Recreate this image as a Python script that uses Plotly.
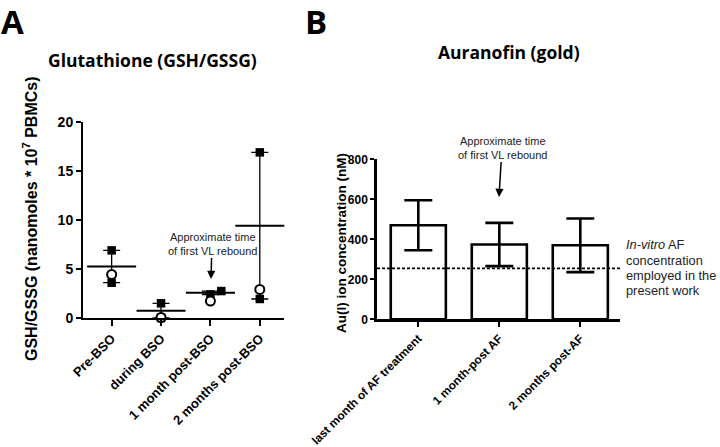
import numpy as np
import plotly.graph_objects as go

# ---------------- data ----------------
gsh_categories = ["Pre-BSO", "during BSO", "1 month post-BSO", "2 months post-BSO"]
gsh_squares = [[6.9, 3.6], [1.5, 0.0], [2.75, 2.4], [16.9, 1.94]]
gsh_circles = [4.45, 0.05, 1.73, 2.92]

af_categories = ["last month of AF treatment", "1 month-post AF", "2 months post-AF"]
af_means = [470, 374, 370]
af_err = [125, 108, 134]
invitro_af = 255

A_yticks = [0, 5, 10, 15, 20]
B_yticks = [0, 200, 400, 600, 800]

invitro_lines = ["<i>In-vitro</i> AF", "concentration", "employed in the", "present work"]

# ---------------- layout helpers ----------------
W, H = 720, 447
def px(x):
    return x / W
def py(y):
    return 1 - y / H

sq_offsets = [[0, 0], [0, 0], [0.22, 0], [0, 0]]  # visual jitter only

fig = go.Figure()

# mean + range error bars (panel A)
sq = np.array(gsh_squares)
means = sq.mean(axis=1)
err_plus = sq.max(axis=1) - means
err_minus = means - sq.min(axis=1)
xA = np.arange(len(gsh_categories))

fig.add_trace(go.Scatter(
    x=xA, y=means, mode="markers", xaxis="x", yaxis="y",
    marker=dict(symbol="line-ew", size=35, line=dict(width=2, color="black"), color="black"),
    error_y=dict(type="data", symmetric=False, array=err_plus, arrayminus=err_minus,
                 thickness=1.3, width=8.5, color="black"),
    cliponaxis=False, showlegend=False, hoverinfo="skip"))

# squares
sx, sy = [], []
for i, vals in enumerate(gsh_squares):
    for j, v in enumerate(vals):
        sx.append(i + sq_offsets[i][j])
        sy.append(v)
fig.add_trace(go.Scatter(
    x=sx, y=sy, mode="markers", xaxis="x", yaxis="y",
    marker=dict(symbol="square", size=8.5, color="black", line=dict(width=0)),
    cliponaxis=False, showlegend=False))

# circles
fig.add_trace(go.Scatter(
    x=xA, y=gsh_circles, mode="markers", xaxis="x", yaxis="y",
    marker=dict(symbol="circle", size=9, color="white", line=dict(width=2, color="black")),
    cliponaxis=False, showlegend=False))

# panel B bars
xB = np.arange(len(af_categories))
fig.add_trace(go.Bar(
    x=xB, y=af_means, xaxis="x2", yaxis="y2", width=0.68,
    marker=dict(color="white", line=dict(color="black", width=2.6)),
    error_y=dict(type="data", array=af_err, thickness=2.6, width=14, color="black"),
    showlegend=False))

font_bold = "Liberation Sans, Arial, sans-serif"

fig.update_layout(
    width=W, height=H,
    margin=dict(l=0, r=0, t=0, b=0, autoexpand=False),
    paper_bgcolor="white", plot_bgcolor="white",
    font=dict(family=font_bold, color="black"),
    xaxis=dict(domain=[px(83), px(284)], range=[-0.58, 3.49],
               tickvals=list(xA), ticktext=["<b>%s</b>" % c for c in gsh_categories],
               tickangle=-45, tickfont=dict(size=13, family=font_bold),
               showline=True, linecolor="black", linewidth=2,
               ticks="outside", ticklen=6, tickwidth=2, tickcolor="black",
               showgrid=False, zeroline=False, anchor="y", automargin=False),
    yaxis=dict(domain=[py(318), py(122)], range=[0, 20],
               tickvals=A_yticks, ticktext=["<b>%d</b>" % v for v in A_yticks],
               tickfont=dict(size=14, family=font_bold),
               showline=True, linecolor="black", linewidth=2,
               ticks="outside", ticklen=5, tickwidth=2, tickcolor="black",
               showgrid=False, zeroline=False, anchor="x", automargin=False),
    xaxis2=dict(domain=[px(377), px(620)], range=[-0.51, 2.49],
                tickvals=list(xB), ticktext=["<b>%s</b>" % c for c in af_categories],
                tickangle=-45, tickfont=dict(size=11.8, family=font_bold),
                showline=True, linecolor="black", linewidth=2.5,
                ticks="outside", ticklen=5, tickwidth=2, tickcolor="black",
                showgrid=False, zeroline=False, anchor="y2", automargin=False),
    yaxis2=dict(domain=[py(319.3), py(159.3)], range=[0, 800],
                tickvals=B_yticks, ticktext=["<b>%d</b>" % v for v in B_yticks],
                tickfont=dict(size=12, family=font_bold),
                showline=True, linecolor="black", linewidth=2.5,
                ticks="outside", ticklen=4, tickwidth=2, tickcolor="black",
                showgrid=False, zeroline=False, anchor="x2", automargin=False),
)

# dashed in-vitro line
fig.add_shape(type="line", xref="x2", yref="y2", x0=-0.51, x1=2.53, y0=invitro_af, y1=invitro_af,
              line=dict(color="black", width=1.8, dash="3px,2px"))

title_font = dict(family="Open Sans, sans-serif", size=17.5, color="black")
ann = []
ann.append(dict(text="<b>A</b>", x=px(0), y=1, xanchor="left", yanchor="top", borderpad=0, yshift=2,
                font=dict(family="Open Sans, sans-serif", size=33, color="black")))
ann.append(dict(text="<b>B</b>", x=px(304), y=1, xanchor="left", yanchor="top", borderpad=0, yshift=2,
                font=dict(family="Open Sans, sans-serif", size=33, color="black")))
ann.append(dict(text="<b>Glutathione (GSH/GSSG)</b>", x=px(152), y=py(60),
                xanchor="center", yanchor="middle", font=title_font))
ann.append(dict(text="<b>Auranofin (gold)</b>", x=px(509), y=py(52),
                xanchor="center", yanchor="middle", font=title_font))
ann.append(dict(text="<b>GSH/GSSG (nanomoles * 10<sup>7</sup> PBMCs)</b>", x=px(30), y=py(219),
                xanchor="center", yanchor="middle", textangle=-90,
                font=dict(family=font_bold, size=16, color="black")))
ann.append(dict(text="<b>Au(I) ion concentration (nM)</b>", x=px(341), y=py(243),
                xanchor="center", yanchor="middle", textangle=-90,
                font=dict(family=font_bold, size=13.5, color="black")))
note_font = dict(family="Liberation Sans, Arial, sans-serif", size=11, color="#222")
# annotation text with arrow: tip at (x, y), text centred at offset (ax, ay) in pixels
ann.append(dict(text="Approximate time<br>of first VL rebound", x=px(211), y=py(279),
                ax=1, ay=-35.5, showarrow=True, arrowhead=2, arrowwidth=1.5, arrowsize=1.1,
                arrowcolor="black", font=note_font))
ann.append(dict(text="Approximate time<br>of first VL rebound", x=px(499), y=py(197),
                ax=3, ay=-49.5, showarrow=True, arrowhead=2, arrowwidth=1.5, arrowsize=1.1,
                arrowcolor="black", font=note_font))
for k, line in enumerate(invitro_lines):
    ann.append(dict(text=line, x=px(625), y=py(245 + 15 * k), xanchor="left", yanchor="middle",
                    borderpad=0,
                    font=dict(family="Liberation Sans, Arial, sans-serif", size=12.8, color="#222")))
for a in ann:
    a.setdefault("xref", "paper")
    a.setdefault("yref", "paper")
    a.setdefault("showarrow", False)
    fig.add_annotation(**a)

fig.write_html("out.html", config={"displayModeBar": False},
               post_script="document.body.style.margin='0';")
